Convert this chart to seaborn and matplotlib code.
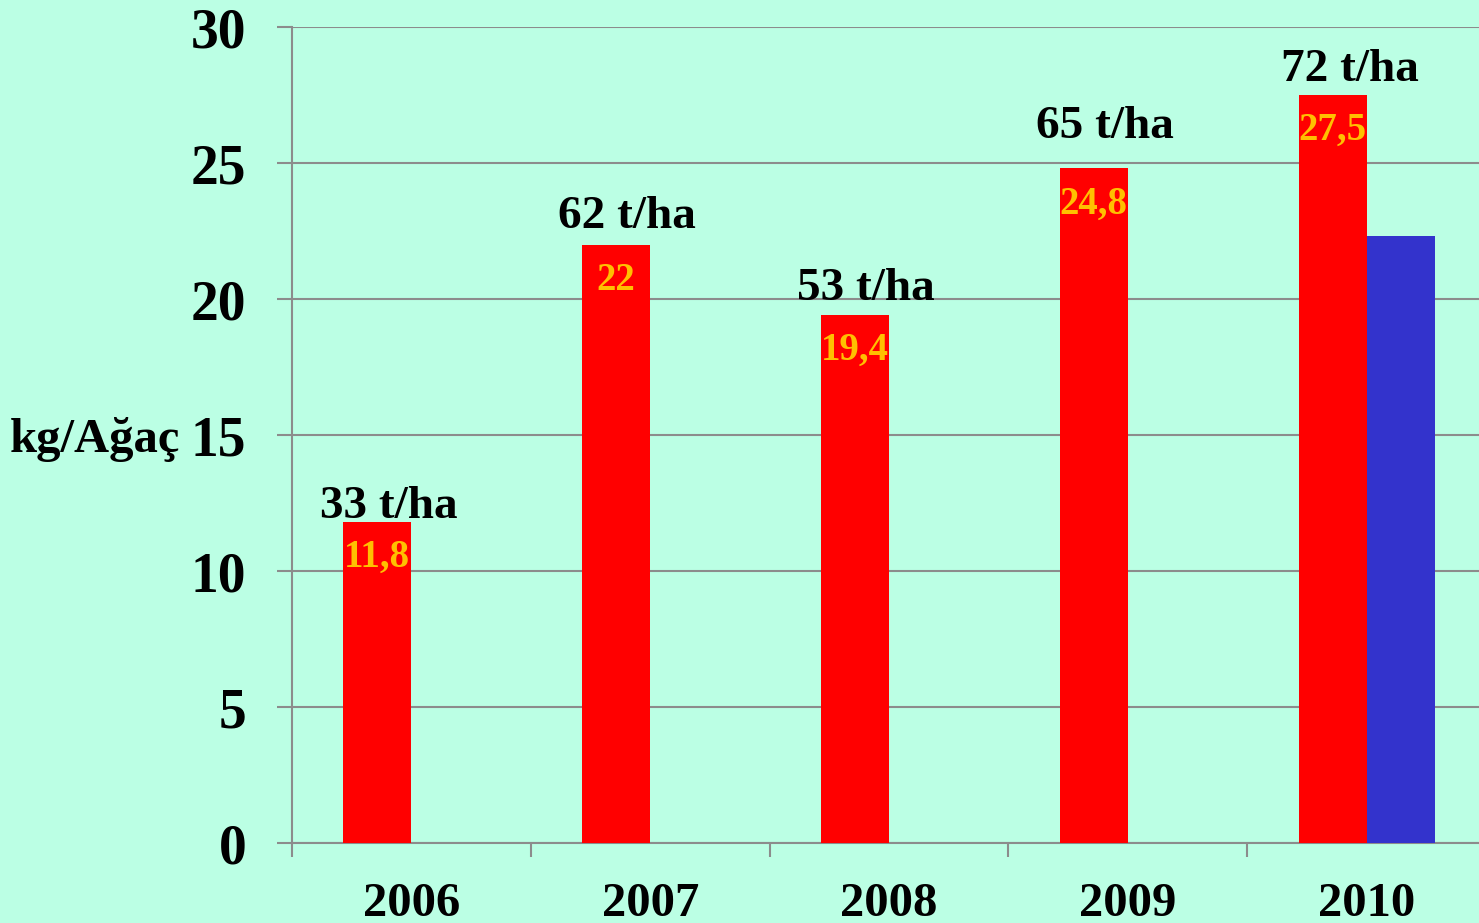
import matplotlib
matplotlib.use("Agg")
import matplotlib.pyplot as plt
import seaborn as sns
import pandas as pd
from matplotlib.ticker import FixedLocator

# data
years = ["2006", "2007", "2008", "2009", "2010"]
kg_per_tree = [11.8, 22, 19.4, 24.8, 27.5]      # red series
second_series = [None, None, None, None, 22.3]  # blue series (2010 only)
t_per_ha = [33, 62, 53, 65, 72]

rows = []
for y, a, b in zip(years, kg_per_tree, second_series):
    rows.append({"year": y, "series": "A", "value": a})
    if b is not None:
        rows.append({"year": y, "series": "B", "value": b})
df = pd.DataFrame(rows)

sns.set_theme(style="white")
plt.rcParams["font.family"] = ["Liberation Serif", "DejaVu Serif"]
plt.rcParams["font.weight"] = "bold"

bg = "#BBFFE4"
grid_c = "#8C8C8C"

fig = plt.figure(figsize=(14.79, 9.23), dpi=100, facecolor=bg)
ax = fig.add_axes([292 / 1479, 1 - 843 / 923, (1486 - 292) / 1479, (843 - 27) / 923])
ax.set_facecolor(bg)

sns.barplot(data=df, x="year", y="value", hue="series", order=years,
            hue_order=["A", "B"], palette={"A": "#FF0000", "B": "#3333CC"},
            saturation=1, width=0.57, linewidth=0, legend=False, ax=ax,
            zorder=3)

ax.set_xlim(-0.5, 4.5)
ax.set_ylim(0, 30)
ax.set_yticks(range(0, 31, 5))
ax.yaxis.grid(True, color=grid_c, linewidth=1.5, zorder=0)
ax.set_axisbelow(True)

for s in ["top", "right"]:
    ax.spines[s].set_visible(False)
for s in ["left", "bottom"]:
    ax.spines[s].set_color(grid_c)
    ax.spines[s].set_linewidth(1.5)

ax.tick_params(axis="y", length=11, width=1.5, color=grid_c, pad=22,
               labelsize=40, left=True)
ax.tick_params(axis="x", which="major", length=0, pad=28, labelsize=35)
ax.xaxis.set_minor_locator(FixedLocator([-0.5, 0.5, 1.5, 2.5, 3.5, 4.5]))
ax.tick_params(axis="x", which="minor", length=10, width=1.5, color=grid_c,
               bottom=True)
for lab in ax.get_xticklabels() + ax.get_yticklabels():
    lab.set_fontweight("bold")
    lab.set_color("black")

ax.set_xlabel("")
ax.set_ylabel("kg/Ağaç", rotation=0, fontsize=35, fontweight="bold",
              color="black", ha="right", va="center")
ax.yaxis.set_label_coords(-0.094, 0.494)

# labels on the red bars
red_bars = ax.containers[0]
label_gap = [4, 17, 15, 30, 14]
label_dx = [11, 11, 11, 11, 17]
for bar, v, t, gap, dx in zip(red_bars, kg_per_tree, t_per_ha, label_gap, label_dx):
    cx = bar.get_x() + bar.get_width() / 2
    top = bar.get_height()
    ax.annotate(f"{v:g}".replace(".", ","), (cx, top), xytext=(0, -17),
                textcoords="offset pixels", ha="center", va="top",
                fontsize=28, fontweight="bold", color="#FFC000", zorder=5)
    ax.annotate(f"{t} t/ha", (cx, top), xytext=(dx, gap),
                textcoords="offset pixels", ha="center", va="baseline",
                fontsize=34, fontweight="bold", color="black", zorder=5)

fig.savefig("out.png", dpi=100, facecolor=bg)
